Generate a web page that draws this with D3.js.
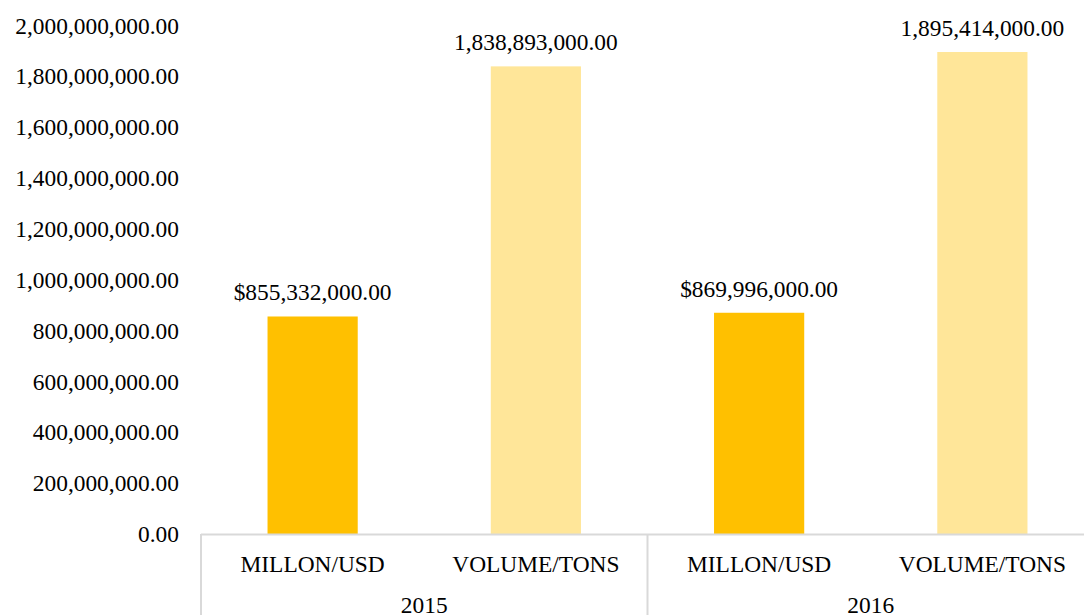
<!DOCTYPE html>
<html>
<head>
<meta charset="utf-8">
<script src="https://cdn.jsdelivr.net/npm/d3@7"></script>
<style>
    body { margin: 0; background: #fff; }
    text { font-family: "Liberation Serif", "Times New Roman", serif; fill: #000; }
</style>
</head>
<body>
<svg id="chart" width="1084" height="615"></svg>
<script>
// data
const years = ["2015", "2016"];
const measures = ["MILLON/USD", "VOLUME/TONS"];
const values2015 = [855332000, 1838893000];
const values2016 = [869996000, 1895414000];
const valueLabels2015 = ["$855,332,000.00", "1,838,893,000.00"];
const valueLabels2016 = ["$869,996,000.00", "1,895,414,000.00"];
const yTicks = [0, 200000000, 400000000, 600000000, 800000000, 1000000000,
    1200000000, 1400000000, 1600000000, 1800000000, 2000000000];
const barColors = ["#FFC000", "#FFE699"];

const rows = [];
years.forEach(function (yr, yi) {
    const vals = yi == 0 ? values2015 : values2016;
    const labs = yi == 0 ? valueLabels2015 : valueLabels2016;
    measures.forEach(function (m, mi) {
        rows.push({ key: yr + "|" + m, year: yr, measure: m, value: vals[mi], label: labs[mi], mi: mi });
    });
});

var svg = d3.select("#chart");
var plotLeft = 201, plotRight = 1094, plotTop = 25.4, plotBottom = 534;
var fontSize = "23.4px";

var x = d3.scaleBand()
    .domain(rows.map(d => d.key))
    .range([plotLeft, plotRight])
    .paddingInner(0.596)
    .paddingOuter(0.298);

var y = d3.scaleLinear()
    .domain([0, 2000000000])
    .range([plotBottom, plotTop]);

var fmt = d3.format(",.2f");

// y tick labels
svg.append("g")
    .selectAll("text")
    .data(yTicks)
    .enter()
    .append("text")
    .attr("x", 179)
    .attr("y", d => y(d))
    .attr("dy", "0.35em")
    .attr("text-anchor", "end")
    .style("font-size", fontSize)
    .text(d => fmt(d));

// bars
svg.append("g")
    .selectAll("rect")
    .data(rows)
    .enter()
    .append("rect")
    .attr("x", d => x(d.key))
    .attr("y", d => y(d.value))
    .attr("width", x.bandwidth())
    .attr("height", d => plotBottom - y(d.value))
    .style("fill", d => barColors[d.mi]);

// value labels
svg.append("g")
    .selectAll("text")
    .data(rows)
    .enter()
    .append("text")
    .attr("x", d => x(d.key) + x.bandwidth() / 2)
    .attr("y", d => y(d.value) - 16)
    .attr("text-anchor", "middle")
    .style("font-size", fontSize)
    .text(d => d.label);

// axis lines
var axisColor = "#d9d9d9";
svg.append("line")
    .attr("x1", plotLeft).attr("x2", plotRight)
    .attr("y1", plotBottom + 0.5).attr("y2", plotBottom + 0.5)
    .style("stroke", axisColor).style("stroke-width", 2);

var step = x.step();
[0, 2, 4].forEach(function (k) {
    var xx = plotLeft + k * step;
    svg.append("line")
        .attr("x1", xx).attr("x2", xx)
        .attr("y1", plotBottom).attr("y2", 615)
        .style("stroke", axisColor).style("stroke-width", 2);
});

// category labels
svg.append("g")
    .selectAll("text")
    .data(rows)
    .enter()
    .append("text")
    .attr("x", d => x(d.key) + x.bandwidth() / 2)
    .attr("y", 572)
    .attr("text-anchor", "middle")
    .style("font-size", fontSize)
    .text(d => d.measure);

// year labels
svg.append("g")
    .selectAll("text")
    .data(years)
    .enter()
    .append("text")
    .attr("x", (d, i) => plotLeft + (2 * i + 1) * step)
    .attr("y", 613)
    .attr("text-anchor", "middle")
    .style("font-size", fontSize)
    .text(d => d);
</script>
</body>
</html>
